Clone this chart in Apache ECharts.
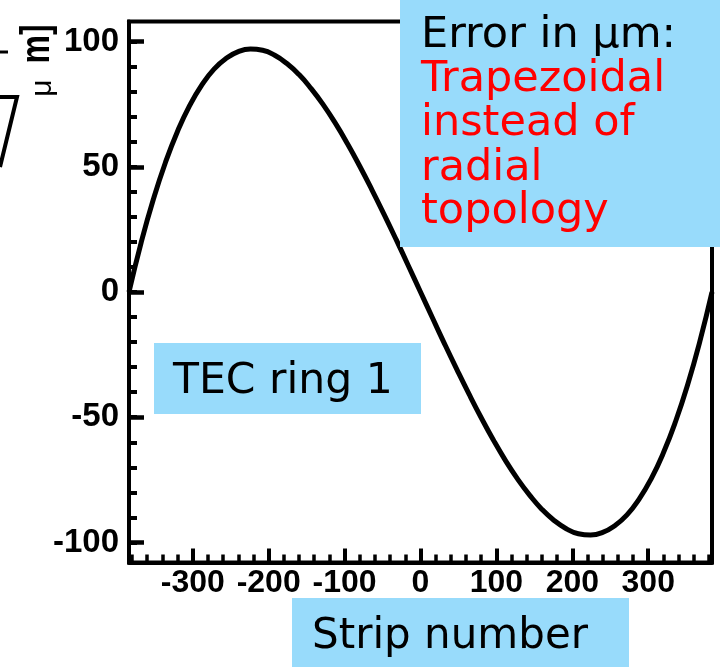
<!DOCTYPE html>
<html>
<head>
<meta charset="utf-8">
<script src="https://cdn.jsdelivr.net/npm/echarts@6/dist/echarts.min.js"></script>
<style>
html,body{margin:0;padding:0;background:#fff;}
#chart{width:720px;height:667px;}
</style>
</head>
<body>
<div id="chart"></div>
<script>
// Data
const strips = [-384,-368,-352,-336,-320,-304,-288,-272,-256,-240,-224,-208,-192,-176,-160,-144,-128,-112,-96,-80,-64,-48,-32,-16,
  0,16,32,48,64,80,96,112,128,144,160,176,192,208,224,240,256,272,288,304,320,336,352,368,384];
const errors = [0,19.7,36.9,51.7,64.2,74.5,82.7,89.0,93.3,96.0,97.0,96.5,94.5,91.2,86.8,81.2,74.7,67.3,59.1,50.2,40.8,31.0,20.9,10.5,
  0,-10.5,-20.9,-31.0,-40.8,-50.2,-59.1,-67.3,-74.7,-81.2,-86.8,-91.2,-94.5,-96.5,-97.0,-96.0,-93.3,-89.0,-82.7,-74.5,-64.2,-51.7,-36.9,-19.7,0];
const xTickLabels = [-300,-200,-100,0,100,200,300];
const yTickLabels = [-100,-50,0,50,100];
const xRange = [-384, 384];
const yRange = [-108, 108];
const xMinorStep = 20;
const yMinorStep = 10;

const xMinor = [];
for (let v = -380; v <= 380; v += xMinorStep) xMinor.push(v);
const yMinor = [];
for (let v = -100; v <= 100; v += yMinorStep) yMinor.push(v);

const chart = echarts.init(document.getElementById('chart'), null, {renderer:'canvas'});
const boxBlue = '#98dbfb';
const txtFont = 'DejaVu Sans';

const option = {
  animation:false,
  grid:{left:129, top:21.5, right:8, bottom:104.5, show:true, borderColor:'#000', borderWidth:4, backgroundColor:'transparent'},
  xAxis:[
    {type:'value', min:xRange[0], max:xRange[1], position:'bottom',
     axisLine:{onZero:false, lineStyle:{color:'#000', width:4}},
     axisTick:{inside:true, length:14, lineStyle:{color:'#000', width:4}, customValues:xTickLabels},
     axisLabel:{customValues:xTickLabels, margin:5, fontSize:32, fontWeight:'bold', fontFamily:'Liberation Sans', color:'#000'},
     splitLine:{show:false}},
    {type:'value', min:xRange[0], max:xRange[1], position:'bottom',
     axisLine:{show:false, onZero:false},
     axisTick:{inside:true, length:8, lineStyle:{color:'#000', width:3.5}, customValues:xMinor},
     axisLabel:{show:false}, splitLine:{show:false}}
  ],
  yAxis:[
    {type:'value', min:yRange[0], max:yRange[1], position:'left',
     axisLine:{onZero:false, lineStyle:{color:'#000', width:4}},
     axisTick:{inside:true, length:15, lineStyle:{color:'#000', width:4.5}, customValues:yTickLabels},
     axisLabel:{customValues:yTickLabels, margin:10, fontSize:33, fontWeight:'bold', fontFamily:'Liberation Sans', color:'#000'},
     splitLine:{show:false}},
    {type:'value', min:yRange[0], max:yRange[1], position:'left',
     axisLine:{show:false, onZero:false},
     axisTick:{inside:true, length:8, lineStyle:{color:'#000', width:4}, customValues:yMinor},
     axisLabel:{show:false}, splitLine:{show:false}}
  ],
  series:[{
    type:'line', xAxisIndex:0, yAxisIndex:0,
    data: strips.map((s,i)=>[s, errors[i]]),
    smooth:true, showSymbol:false,
    lineStyle:{color:'#000', width:5}
  }],
  graphic:[
    // fragments of neighbouring figure on the left edge
    {type:'polyline', z:100, shape:{points:[[0,97],[17,97],[0,167]]}, style:{stroke:'#000', lineWidth:4, fill:null}},
    {type:'line', z:100, shape:{x1:0,y1:52,x2:8,y2:52}, style:{stroke:'#000', lineWidth:3}},
    // y axis unit
    {type:'text', z:100, x:38, y:44, rotation:Math.PI/2, scaleX:0.8,
     style:{text:'m]', align:'center', verticalAlign:'middle', fontSize:40, fontWeight:'bold', fontFamily:'Liberation Sans', fill:'#000'}},
    {type:'text', z:100, x:43, y:88, rotation:Math.PI/2,
     style:{text:'μ', align:'center', verticalAlign:'middle', fontSize:30, fontFamily:'Liberation Sans', fill:'#000'}},
    // Error box
    {type:'rect', z:100, shape:{x:400, y:0, width:320, height:247}, style:{fill:boxBlue}},
    {type:'text', z:101, x:421, y:36, style:{text:'Error in μm:', fontSize:43, fontFamily:txtFont, fill:'#000', verticalAlign:'middle'}},
    {type:'text', z:101, x:421, y:80, style:{text:'Trapezoidal', fontSize:43, fontFamily:txtFont, fill:'#ff0000', verticalAlign:'middle'}},
    {type:'text', z:101, x:421, y:124, style:{text:'instead of', fontSize:43, fontFamily:txtFont, fill:'#ff0000', verticalAlign:'middle'}},
    {type:'text', z:101, x:421, y:168.5, style:{text:'radial', fontSize:43, fontFamily:txtFont, fill:'#ff0000', verticalAlign:'middle'}},
    {type:'text', z:101, x:421, y:212, style:{text:'topology', fontSize:43, fontFamily:txtFont, fill:'#ff0000', verticalAlign:'middle'}},
    // TEC ring 1 box
    {type:'rect', z:100, shape:{x:154, y:343, width:267, height:71}, style:{fill:boxBlue}},
    {type:'text', z:101, x:173, y:382, style:{text:'TEC ring 1', fontSize:42.5, fontFamily:txtFont, fill:'#000', verticalAlign:'middle'}},
    // Strip number box
    {type:'rect', z:100, shape:{x:292, y:598, width:337, height:69}, style:{fill:boxBlue}},
    {type:'text', z:101, x:312, y:637, style:{text:'Strip number', fontSize:42, fontFamily:txtFont, fill:'#000', verticalAlign:'middle'}}
  ]
};
chart.setOption(option);
</script>
</body>
</html>
